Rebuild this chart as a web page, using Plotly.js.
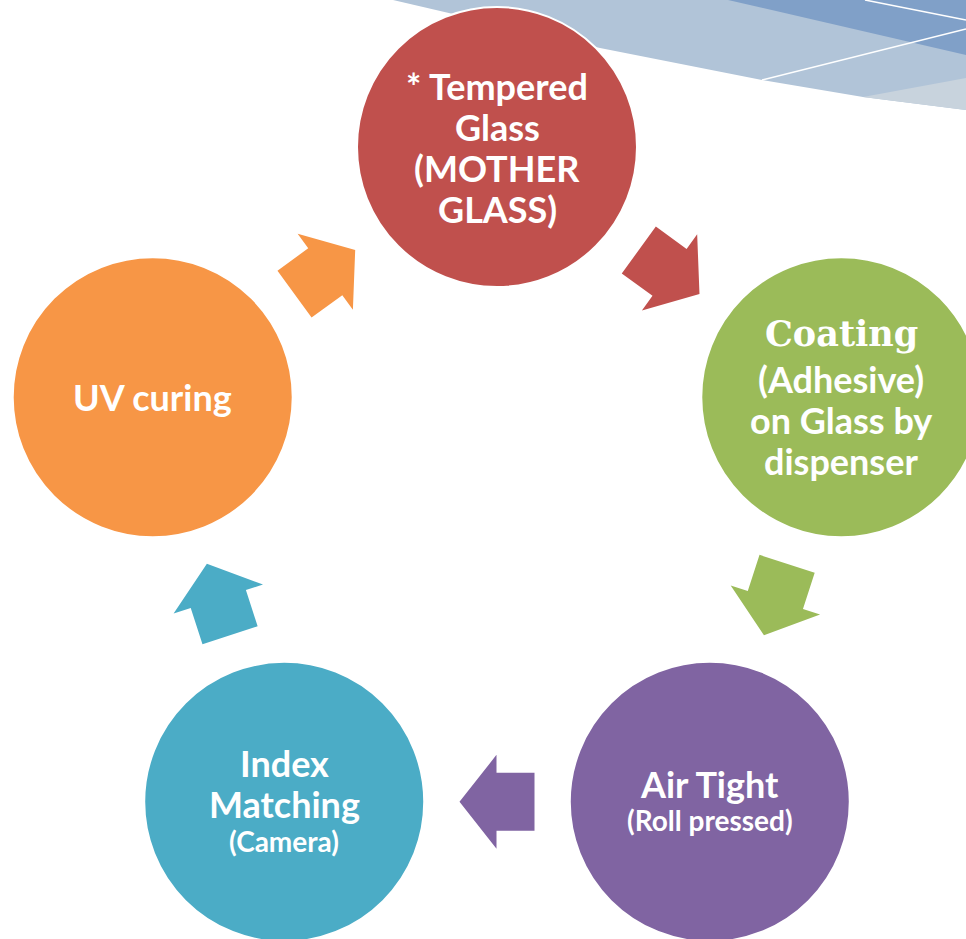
<!DOCTYPE html>
<html>
<head>
<meta charset="utf-8">
<script src="https://cdn.plot.ly/plotly-3.0.1.min.js"></script>
<style>html,body{margin:0;padding:0;background:#fff;}#chart{width:966px;height:939px;}</style>
</head>
<body>
<div id="chart"></div>
<script>
// ---- data ----
const stepLines = [
  ["* Tempered", "Glass", "(MOTHER", "GLASS)"],
  ["Coating", "(Adhesive)", "on Glass by", "dispenser"],
  ["Air Tight", "(Roll pressed)"],
  ["Index", "Matching", "(Camera)"],
  ["UV curing"]
];
const stepLineKinds = [
  ["main", "main", "main", "main"],
  ["serif", "main", "main", "main"],
  ["main", "sub"],
  ["main", "main", "sub"],
  ["main"]
];
const stepColors = ["#C0504D", "#9BBB59", "#8064A2", "#4BACC6", "#F79646"];

// ---- layout constants ----
const W = 966, H = 939;
const ringCx = 497, ringCy = 509, ringR = 362, nodeR = 140;
const arrowLen = 75, shaftLen = 38, shaftHalf = 29, headHalf = 47;
const fonts = {
  main: {family: "Lato, sans-serif", size: 36, weight: 700, box: 41},
  sub: {family: "Lato, sans-serif", size: 28, weight: 700, box: 32},
  serif: {family: "'DejaVu Serif', serif", size: 35, weight: 700, box: 49}
};

const n = stepLines.length;
const nodes = stepLines.map((_, i) => {
  const a = (-90 + 360 * i / n) * Math.PI / 180;
  return {x: ringCx + ringR * Math.cos(a), y: ringCy + ringR * Math.sin(a)};
});

const shapes = [];
// decorative background bands (top-right)
shapes.push({type: "path", xref: "x", yref: "y", layer: "below",
  path: "M 393,0 L 600,48 L 762,80 L 863,97 L 966,110 L 966,0 Z",
  fillcolor: "#B1C4D8", line: {width: 0}});
shapes.push({type: "path", xref: "x", yref: "y", layer: "below",
  path: "M 863,97 L 966,78 L 966,110 Z", fillcolor: "#C8D3DD", line: {width: 0}});
shapes.push({type: "path", xref: "x", yref: "y", layer: "below",
  path: "M 728,0 L 966,55 L 966,0 Z", fillcolor: "#80A0C8", line: {width: 0}});
shapes.push({type: "path", xref: "x", yref: "y", layer: "below",
  path: "M 865,0 L 966,20", line: {color: "#ffffff", width: 1.5}});
shapes.push({type: "path", xref: "x", yref: "y", layer: "below",
  path: "M 762,80 L 966,29", line: {color: "#ffffff", width: 1.5}});

// circles
nodes.forEach((p, i) => {
  shapes.push({type: "circle", xref: "x", yref: "y", layer: "below",
    x0: p.x - nodeR, x1: p.x + nodeR, y0: p.y - nodeR, y1: p.y + nodeR,
    fillcolor: stepColors[i], line: {color: "#ffffff", width: 2}});
});

// arrows between consecutive steps
const traces = [];
nodes.forEach((p, i) => {
  const q = nodes[(i + 1) % n];
  const mx = (p.x + q.x) / 2, my = (p.y + q.y) / 2;
  const dx = q.x - p.x, dy = q.y - p.y, d = Math.hypot(dx, dy);
  const ux = dx / d, uy = dy / d, nx = -uy, ny = ux;
  const tail = -arrowLen / 2, neck = tail + shaftLen, tip = arrowLen / 2;
  const pt = (s, t) => [mx + ux * s + nx * t, my + uy * s + ny * t];
  const pts = [pt(tail, shaftHalf), pt(neck, shaftHalf), pt(neck, headHalf), pt(tip, 0),
               pt(neck, -headHalf), pt(neck, -shaftHalf), pt(tail, -shaftHalf), pt(tail, shaftHalf)];
  traces.push({type: "scatter", mode: "lines", x: pts.map(v => v[0]), y: pts.map(v => v[1]),
    fill: "toself", fillcolor: stepColors[i], line: {width: 0, color: stepColors[i]},
    hoverinfo: "skip", showlegend: false});
});

// labels
const annotations = [];
stepLines.forEach((lines, i) => {
  const kinds = stepLineKinds[i];
  const offs = [0];
  for (let j = 1; j < lines.length; j++) offs.push(offs[j - 1] + (fonts[kinds[j - 1]].box + fonts[kinds[j]].box) / 2);
  const span = offs[offs.length - 1];
  lines.forEach((t, j) => {
    const f = fonts[kinds[j]];
    annotations.push({x: nodes[i].x, y: nodes[i].y - span / 2 + offs[j], xref: "x", yref: "y",
      text: t, showarrow: false, xanchor: "center", yanchor: "middle",
      font: {family: f.family, size: f.size, color: "#ffffff", weight: f.weight}});
  });
});

const layout = {
  width: W, height: H, margin: {l: 0, r: 0, t: 0, b: 0},
  paper_bgcolor: "#ffffff", plot_bgcolor: "#ffffff", showlegend: false,
  xaxis: {range: [0, W], visible: false, fixedrange: true},
  yaxis: {range: [H, 0], visible: false, fixedrange: true},
  shapes: shapes, annotations: annotations
};
Plotly.newPlot("chart", traces, layout, {displayModeBar: false, staticPlot: true});
</script>
</body>
</html>
